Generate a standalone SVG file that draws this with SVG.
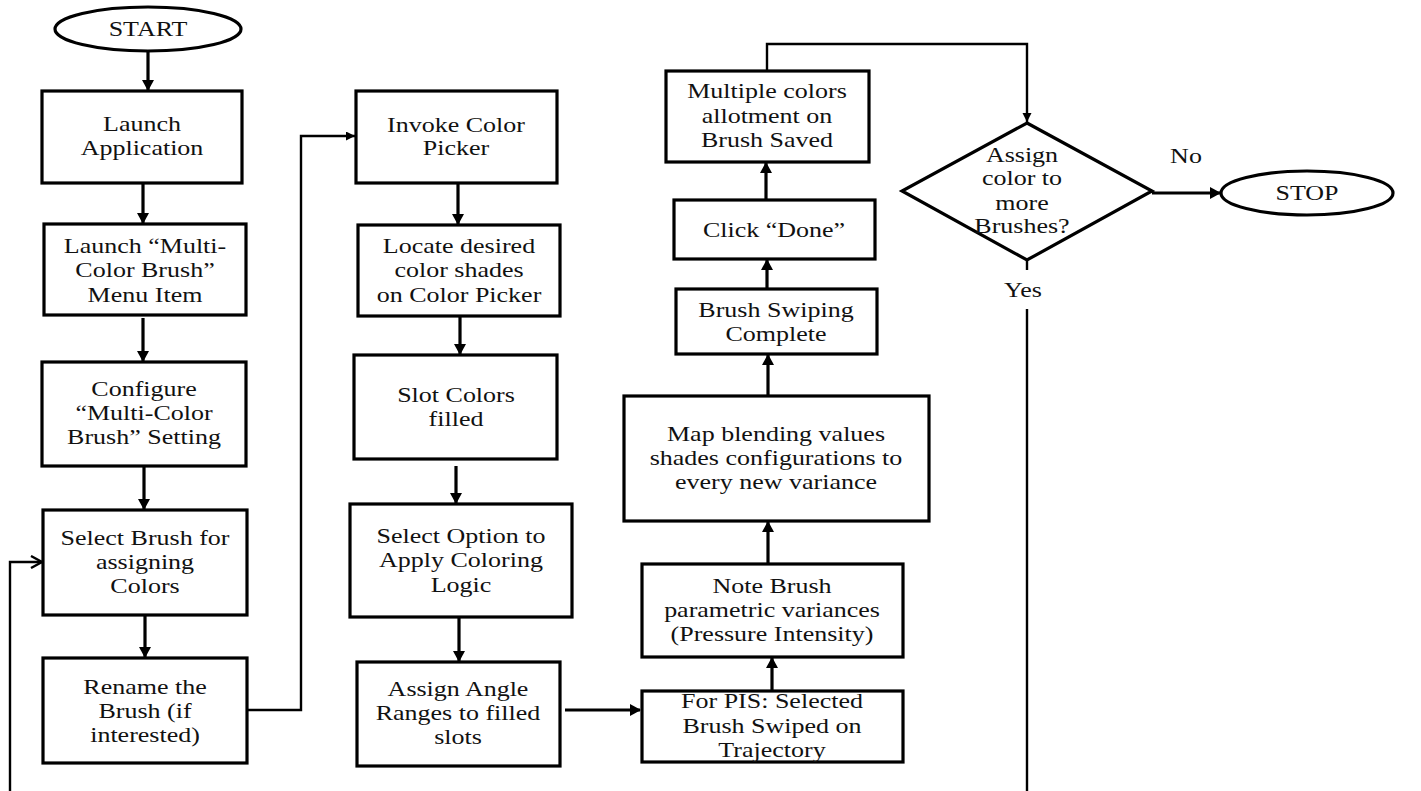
<svg xmlns="http://www.w3.org/2000/svg" width="1421" height="791" viewBox="0 0 1421 791">
<style>
  .box{fill:#fff;stroke:#000;stroke-width:3.2}
  .t{font-family:"Liberation Serif","Times New Roman",serif;font-size:20px;fill:#111;text-anchor:middle}
  .thick{fill:none;stroke:#000;stroke-width:3.2}
  .thin{fill:none;stroke:#000;stroke-width:2.4}
</style>
<defs>
  <marker id="ah" markerUnits="userSpaceOnUse" markerWidth="12" markerHeight="12" refX="10" refY="6" orient="auto">
    <path d="M0,0 L11,6 L0,12 z" fill="#000"/>
  </marker>
  <marker id="ahs" markerUnits="userSpaceOnUse" markerWidth="10" markerHeight="10" refX="9" refY="4.5" orient="auto">
    <path d="M0,0 L9,4.5 L0,9 z" fill="#000"/>
  </marker>
  <marker id="open" markerUnits="userSpaceOnUse" markerWidth="14" markerHeight="14" refX="12" refY="7" orient="auto">
    <path d="M1,1 L12,7 L1,13" fill="none" stroke="#000" stroke-width="2.4"/>
  </marker>
</defs>
<rect width="1421" height="791" fill="#fff"/>

<g id="connectors">
  <line class="thick" x1="148" y1="51" x2="148" y2="90" marker-end="url(#ah)"/>
  <line class="thick" x1="143" y1="184" x2="143" y2="223" marker-end="url(#ah)"/>
  <line class="thick" x1="143" y1="318" x2="143" y2="361" marker-end="url(#ah)"/>
  <line class="thick" x1="144" y1="467" x2="144" y2="509" marker-end="url(#ah)"/>
  <line class="thick" x1="145" y1="616" x2="145" y2="657" marker-end="url(#ah)"/>
  <path class="thin" d="M247,710 H301 V136 H355" marker-end="url(#ahs)"/>
  <path class="thin" d="M10,791 V562 H42" marker-end="url(#open)"/>
  <line class="thick" x1="458" y1="184" x2="458" y2="224" marker-end="url(#ah)"/>
  <line class="thick" x1="460" y1="317" x2="460" y2="354" marker-end="url(#ah)"/>
  <line class="thick" x1="456" y1="466" x2="456" y2="503" marker-end="url(#ah)"/>
  <line class="thick" x1="459" y1="618" x2="459" y2="661" marker-end="url(#ah)"/>
  <line class="thick" x1="565" y1="710" x2="640" y2="710" marker-end="url(#ah)"/>
  <line class="thick" x1="772" y1="690" x2="772" y2="658" marker-end="url(#ah)"/>
  <line class="thick" x1="768" y1="563" x2="768" y2="522" marker-end="url(#ah)"/>
  <line class="thick" x1="768" y1="395" x2="768" y2="355" marker-end="url(#ah)"/>
  <line class="thick" x1="767" y1="288" x2="767" y2="260" marker-end="url(#ah)"/>
  <line class="thick" x1="766" y1="199" x2="766" y2="163" marker-end="url(#ah)"/>
  <path class="thin" d="M767,71 V44 H1027 V122" marker-end="url(#ahs)"/>
  <line class="thick" x1="1152" y1="193" x2="1220" y2="193" marker-end="url(#ah)"/>
  <path class="thin" d="M1027,260 V270 M1027,309 V791"/>
  <text class="t" transform="matrix(1.3 0 0 1 1186 0)" x="0" y="163">No</text>
  <text class="t" transform="matrix(1.3 0 0 1 1023 0)" x="0" y="297">Yes</text>
</g>

<g id="start">
  <ellipse cx="148" cy="29" rx="93" ry="22" class="box"/>
  <text class="t" transform="matrix(1.3 0 0 1 148 0)" x="0" y="36">START</text>
</g>
<g id="n1">
  <rect class="box" x="42" y="91" width="200" height="92"/>
  <text class="t" transform="matrix(1.3 0 0 1 142 0)"><tspan x="0" y="131">Launch</tspan><tspan x="0" y="155">Application</tspan></text>
</g>
<g id="n2">
  <rect class="box" x="44" y="224" width="202" height="91"/>
  <text class="t" transform="matrix(1.3 0 0 1 145 0)"><tspan x="0" y="253">Launch “Multi-</tspan><tspan x="0" y="277">Color Brush”</tspan><tspan x="0" y="302">Menu Item</tspan></text>
</g>
<g id="n3">
  <rect class="box" x="42" y="362" width="204" height="104"/>
  <text class="t" transform="matrix(1.3 0 0 1 144 0)"><tspan x="0" y="396">Configure</tspan><tspan x="0" y="420">“Multi-Color</tspan><tspan x="0" y="444">Brush” Setting</tspan></text>
</g>
<g id="n4">
  <rect class="box" x="43" y="510" width="204" height="105"/>
  <text class="t" transform="matrix(1.3 0 0 1 145 0)"><tspan x="0" y="545">Select Brush for</tspan><tspan x="0" y="569">assigning</tspan><tspan x="0" y="593">Colors</tspan></text>
</g>
<g id="n5">
  <rect class="box" x="43" y="658" width="204" height="105"/>
  <text class="t" transform="matrix(1.3 0 0 1 145 0)"><tspan x="0" y="694">Rename the</tspan><tspan x="0" y="718">Brush (if</tspan><tspan x="0" y="742">interested)</tspan></text>
</g>
<g id="n6">
  <rect class="box" x="356" y="91" width="201" height="92"/>
  <text class="t" transform="matrix(1.3 0 0 1 456 0)"><tspan x="0" y="132">Invoke Color</tspan><tspan x="0" y="155">Picker</tspan></text>
</g>
<g id="n7">
  <rect class="box" x="358" y="225" width="202" height="91"/>
  <text class="t" transform="matrix(1.3 0 0 1 459 0)"><tspan x="0" y="253">Locate desired</tspan><tspan x="0" y="277">color shades</tspan><tspan x="0" y="302">on Color Picker</tspan></text>
</g>
<g id="n8">
  <rect class="box" x="354" y="355" width="203" height="104"/>
  <text class="t" transform="matrix(1.3 0 0 1 456 0)"><tspan x="0" y="402">Slot Colors</tspan><tspan x="0" y="426">filled</tspan></text>
</g>
<g id="n9">
  <rect class="box" x="350" y="504" width="222" height="113"/>
  <text class="t" transform="matrix(1.3 0 0 1 461 0)"><tspan x="0" y="543">Select Option to</tspan><tspan x="0" y="567">Apply Coloring</tspan><tspan x="0" y="592">Logic</tspan></text>
</g>
<g id="n10">
  <rect class="box" x="357" y="662" width="203" height="104"/>
  <text class="t" transform="matrix(1.3 0 0 1 458 0)"><tspan x="0" y="696">Assign Angle</tspan><tspan x="0" y="720">Ranges to filled</tspan><tspan x="0" y="744">slots</tspan></text>
</g>
<g id="n11">
  <rect class="box" x="642" y="691" width="261" height="71"/>
  <text class="t" transform="matrix(1.3 0 0 1 772 0)"><tspan x="0" y="708">For PIS: Selected</tspan><tspan x="0" y="733">Brush Swiped on</tspan><tspan x="0" y="757">Trajectory</tspan></text>
</g>
<g id="n12">
  <rect class="box" x="642" y="564" width="261" height="93"/>
  <text class="t" transform="matrix(1.3 0 0 1 772 0)"><tspan x="0" y="593">Note Brush</tspan><tspan x="0" y="617">parametric variances</tspan><tspan x="0" y="641">(Pressure Intensity)</tspan></text>
</g>
<g id="n13">
  <rect class="box" x="624" y="396" width="305" height="125"/>
  <text class="t" transform="matrix(1.3 0 0 1 776 0)"><tspan x="0" y="441">Map blending values</tspan><tspan x="0" y="465">shades configurations to</tspan><tspan x="0" y="489">every new variance</tspan></text>
</g>
<g id="n14">
  <rect class="box" x="676" y="289" width="201" height="65"/>
  <text class="t" transform="matrix(1.3 0 0 1 776 0)"><tspan x="0" y="317">Brush Swiping</tspan><tspan x="0" y="341">Complete</tspan></text>
</g>
<g id="n15">
  <rect class="box" x="674" y="200" width="201" height="59"/>
  <text class="t" transform="matrix(1.3 0 0 1 774 0)"><tspan x="0" y="237">Click “Done”</tspan></text>
</g>
<g id="n16">
  <rect class="box" x="666" y="71" width="203" height="91"/>
  <text class="t" transform="matrix(1.3 0 0 1 767 0)"><tspan x="0" y="98">Multiple  colors</tspan><tspan x="0" y="123">allotment  on</tspan><tspan x="0" y="147">Brush Saved</tspan></text>
</g>
<g id="decision">
  <polygon class="box" points="1027,123 1152,191 1027,260 902,191"/>
  <text class="t" transform="matrix(1.3 0 0 1 1022 0)"><tspan x="0" y="162">Assign</tspan><tspan x="0" y="185">color to</tspan><tspan x="0" y="210">more</tspan><tspan x="0" y="233">Brushes?</tspan></text>
</g>
<g id="stop">
  <ellipse cx="1307" cy="193" rx="86" ry="22" class="box"/>
  <text class="t" transform="matrix(1.3 0 0 1 1307 0)" x="0" y="200">STOP</text>
</g>
</svg>
